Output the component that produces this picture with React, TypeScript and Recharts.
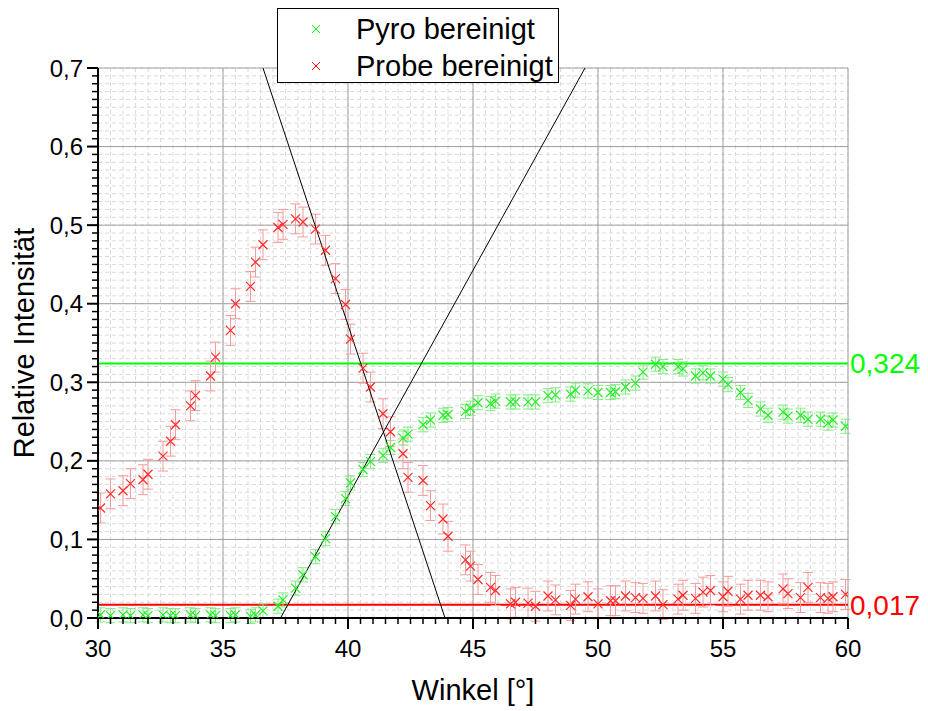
import React from 'react';
import {
  ComposedChart,
  Scatter,
  ErrorBar,
  XAxis,
  YAxis,
  CartesianGrid,
  ReferenceLine,
  Legend,
} from 'recharts';

// measurement angles (shared by both series)
const angles = [
  30.1, 30.5, 31.0, 31.3, 31.8, 32.0, 32.6, 32.9, 33.1, 33.7, 33.9, 34.5, 34.7, 35.3, 35.5, 36.1,
  36.3, 36.6, 37.2, 37.4, 37.9, 38.2, 38.7, 39.1, 39.5, 39.9, 40.1, 40.6, 40.9, 41.4, 41.7, 42.2,
  42.4, 43.0, 43.3, 43.8, 44.0, 44.7, 44.9, 45.2, 45.7, 45.9, 46.5, 46.7, 47.2, 47.5, 48.0, 48.3,
  48.9, 49.1, 49.6, 50.0, 50.5, 50.7, 51.1, 51.5, 51.8, 52.3, 52.6, 53.2, 53.4, 53.9, 54.2, 54.5,
  55.0, 55.2, 55.7, 56.0, 56.5, 56.8, 57.4, 57.6, 58.1, 58.4, 58.9, 59.2, 59.4, 59.9,
];

const pyro = [
  0.004, 0.003, 0.004, 0.003, 0.004, 0.003, 0.004, 0.003, 0.003, 0.004, 0.003, 0.004, 0.003, 0.003, 0.004, 0.002,
  0.004, 0.009, 0.015, 0.023, 0.038, 0.055, 0.078, 0.101, 0.129, 0.152, 0.172, 0.189, 0.199, 0.207, 0.217, 0.229,
  0.234, 0.246, 0.252, 0.258, 0.259, 0.263, 0.267, 0.274, 0.273, 0.276, 0.275, 0.275, 0.275, 0.275, 0.283, 0.284,
  0.285, 0.290, 0.289, 0.287, 0.287, 0.288, 0.294, 0.299, 0.313, 0.323, 0.320, 0.320, 0.317, 0.308, 0.312, 0.308,
  0.304, 0.297, 0.287, 0.277, 0.266, 0.258, 0.262, 0.257, 0.258, 0.253, 0.253, 0.248, 0.252, 0.244,
];

const probe = [
  0.140, 0.158, 0.162, 0.171, 0.176, 0.183, 0.206, 0.225, 0.246, 0.270, 0.283, 0.308, 0.332, 0.366, 0.400, 0.422,
  0.453, 0.475, 0.497, 0.501, 0.508, 0.504, 0.495, 0.468, 0.432, 0.399, 0.355, 0.318, 0.294, 0.260, 0.237, 0.209,
  0.179, 0.175, 0.143, 0.126, 0.104, 0.074, 0.066, 0.049, 0.039, 0.035, 0.018, 0.020, 0.019, 0.015, 0.028, 0.023,
  0.016, 0.024, 0.027, 0.018, 0.022, 0.022, 0.028, 0.026, 0.025, 0.028, 0.017, 0.024, 0.029, 0.025, 0.033, 0.035,
  0.027, 0.034, 0.024, 0.029, 0.029, 0.027, 0.037, 0.031, 0.026, 0.039, 0.026, 0.025, 0.027, 0.030,
];

const PYRO_ERR = 0.009;
const PROBE_ERR = 0.019;

// plateau levels and tangent lines
const PYRO_LEVEL = 0.324;
const PROBE_LEVEL = 0.017;
const fitFalling = [{ x: 36.6, y: 0.7 }, { x: 43.88, y: 0 }];
const fitRising = [{ x: 37.3, y: 0 }, { x: 49.48, y: 0.7 }];

const xTicks = Array.from({ length: 61 }, (_, i) => 30 + i * 0.5);
const yTicks = Array.from({ length: 71 }, (_, i) => i / 100);
const xMajor = [30, 35, 40, 45, 50, 55, 60];
const yMajor = [0, 0.1, 0.2, 0.3, 0.4, 0.5, 0.6, 0.7];

const pyroData = angles.map((x, i) => ({ x, y: pyro[i], err: PYRO_ERR }));
const probeData = angles.map((x, i) => ({ x, y: probe[i], err: PROBE_ERR }));

const FONT = '"Liberation Sans", Arial, sans-serif';
const GREEN = '#00ff00';
const RED = '#ff0000';

const comma = (v: number, d: number) => v.toFixed(d).replace('.', ',');

const crossShape = (color: string) => (props: any) => {
  const { cx, cy } = props;
  const s = 4.5;
  return (
    <path
      d={`M${cx - s},${cy - s}L${cx + s},${cy + s}M${cx - s},${cy + s}L${cx + s},${cy - s}`}
      stroke={color}
      strokeWidth={1.2}
      fill="none"
    />
  );
};

const XTick = (props: any) => {
  const { x, y, payload } = props;
  const v = payload.value;
  const major = Math.abs(v - Math.round(v / 5) * 5) < 1e-6;
  return (
    <g>
      <line x1={x} x2={x} y1={y} y2={y + (major ? 11 : 6)} stroke="#000" strokeWidth={major ? 2 : 1.5} />
      {major && (
        <text x={x} y={y + 39} textAnchor="middle" fontSize={24} fontFamily={FONT} fill="#000">
          {v}
        </text>
      )}
    </g>
  );
};

const YTick = (props: any) => {
  const { x, y, payload } = props;
  const v = payload.value;
  const major = Math.round(v * 100) % 10 === 0;
  return (
    <g>
      <line x1={x - (major ? 11 : 6)} x2={x} y1={y} y2={y} stroke="#000" strokeWidth={major ? 2 : 1.5} />
      {major && (
        <text x={x - 15} y={y} dy="0.36em" textAnchor="end" fontSize={24} fontFamily={FONT} fill="#000">
          {comma(v, 1)}
        </text>
      )}
    </g>
  );
};

const LegendBox = () => (
  <div style={{ border: '1px solid #000', background: '#fff', width: 280, height: 73 }}>
    <svg width={280} height={73}>
      <path d="M34,16L42,24M34,24L42,16" stroke={GREEN} strokeWidth={1} fill="none" />
      <text x={78} y={30} fontSize={29} fontFamily={FONT} fill="#000">Pyro bereinigt</text>
      <path d="M34,53L42,61M34,61L42,53" stroke={RED} strokeWidth={1} fill="none" />
      <text x={78} y={67} fontSize={29} fontFamily={FONT} fill="#000">Probe bereinigt</text>
    </svg>
  </div>
);

export default function App() {
  return (
    <div style={{ width: 920, height: 703, position: 'relative', background: '#fff' }}>
      <ComposedChart width={920} height={703} margin={{ top: 60, right: 80, bottom: 0, left: 0 }}>
        <CartesianGrid stroke="#dadada" strokeDasharray="4 3" />
        <CartesianGrid stroke="#a0a0a0" horizontalValues={yMajor} verticalValues={xMajor} />
        <XAxis
          dataKey="x"
          type="number"
          domain={[30, 60]}
          allowDataOverflow
          ticks={xTicks}
          interval={0}
          tickSize={0}
          tickMargin={0}
          tickLine={false}
          tick={<XTick />}
          axisLine={{ stroke: '#000', strokeWidth: 2 }}
          height={93}
          label={{
            value: 'Winkel [°]',
            position: 'insideBottom',
            offset: 11,
            fill: '#000',
            fontSize: 29,
            fontFamily: FONT,
          }}
        />
        <YAxis
          dataKey="y"
          type="number"
          domain={[0, 0.7]}
          allowDataOverflow
          ticks={yTicks}
          interval={0}
          tickSize={0}
          tickMargin={0}
          tickLine={false}
          tick={<YTick />}
          axisLine={{ stroke: '#000', strokeWidth: 2 }}
          width={90}
          label={{
            value: 'Relative Intensität',
            angle: -90,
            position: 'insideLeft',
            offset: 16,
            fill: '#000',
            fontSize: 29,
            fontFamily: FONT,
            style: { textAnchor: 'middle' },
          }}
        />
        <ReferenceLine
          y={PYRO_LEVEL}
          stroke={GREEN}
          strokeWidth={2}
          label={{ value: comma(PYRO_LEVEL, 3), position: 'right', offset: 2, fill: GREEN, fontSize: 28, fontFamily: FONT }}
        />
        <ReferenceLine
          y={PROBE_LEVEL}
          stroke={RED}
          strokeWidth={2}
          label={{ value: comma(PROBE_LEVEL, 3), position: 'right', offset: 2, fill: RED, fontSize: 28, fontFamily: FONT }}
        />
        <Scatter name="Pyro bereinigt" data={pyroData} dataKey="y" shape={crossShape('#22ee22')} isAnimationActive={false}>
          <ErrorBar dataKey="err" direction="y" width={5} stroke="#80ee80" strokeWidth={1} />
        </Scatter>
        <Scatter name="Probe bereinigt" data={probeData} dataKey="y" shape={crossShape('#ff2a2a')} isAnimationActive={false}>
          <ErrorBar dataKey="err" direction="y" width={5} stroke="#f79a9a" strokeWidth={1} />
        </Scatter>
        <ReferenceLine segment={fitFalling} stroke="#000" strokeWidth={1} ifOverflow="visible" />
        <ReferenceLine segment={fitRising} stroke="#000" strokeWidth={1} ifOverflow="visible" />
        <Legend
          layout="horizontal"
          verticalAlign="middle"
          align="center"
          content={<LegendBox />}
          wrapperStyle={{ top: 0, left: 269, width: 282, height: 75 }}
        />
      </ComposedChart>
    </div>
  );
}
